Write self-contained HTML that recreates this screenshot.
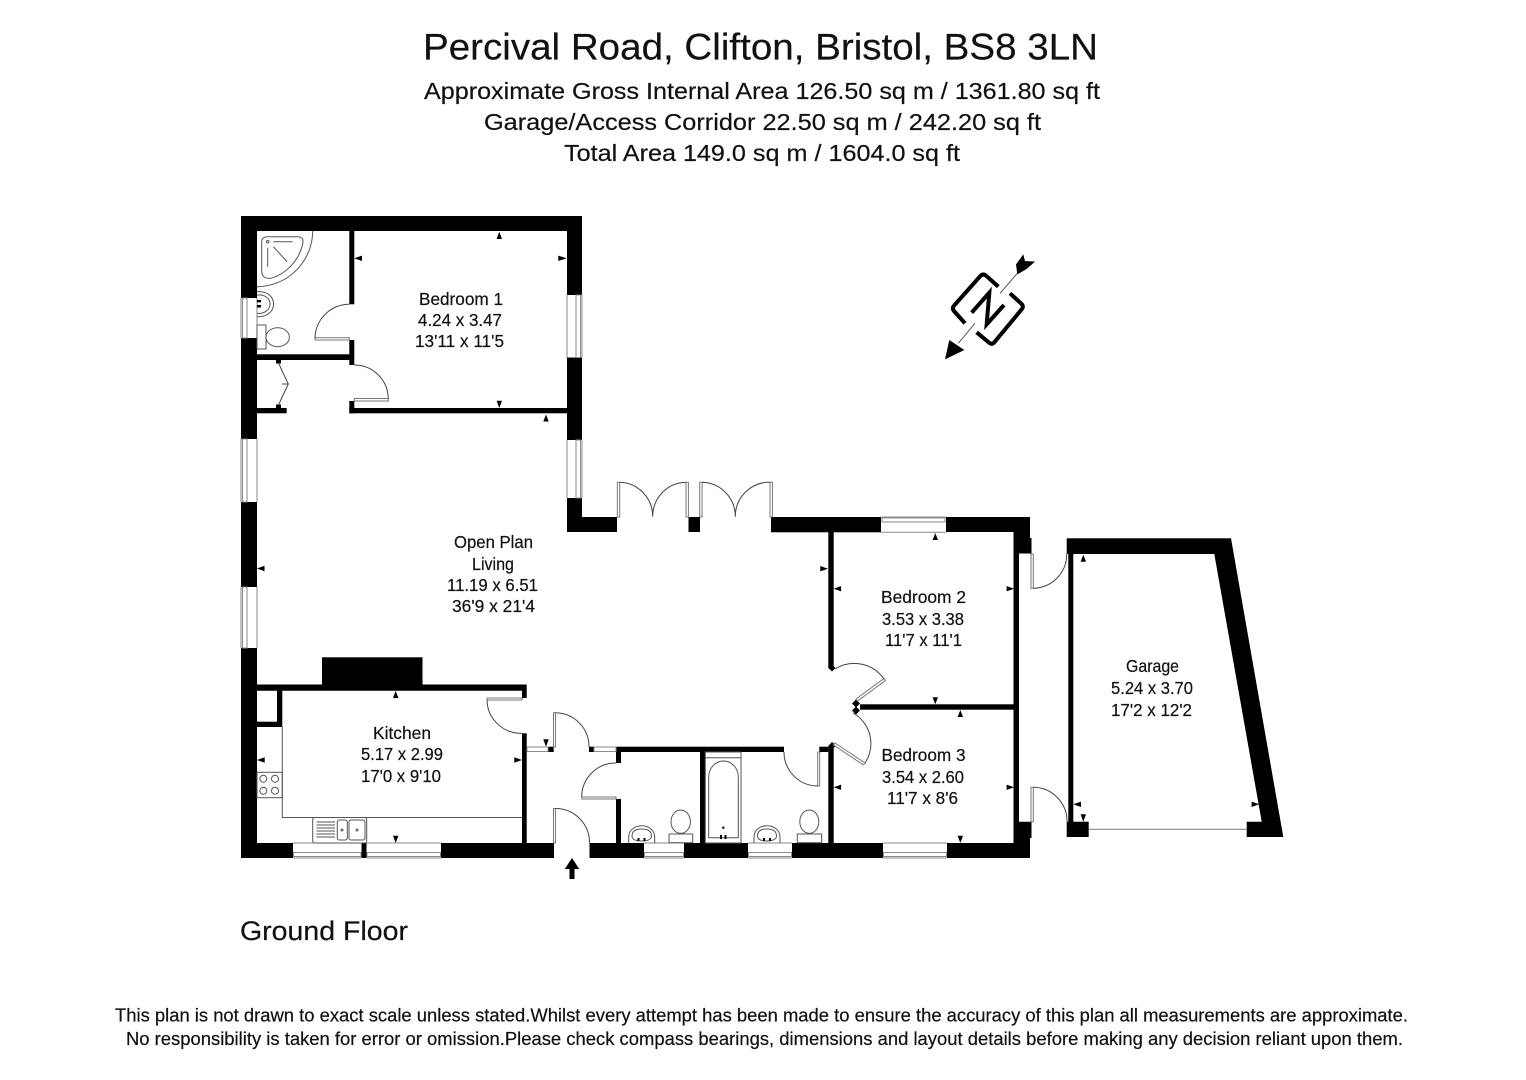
<!DOCTYPE html>
<html><head><meta charset="utf-8"><title>Floor plan</title>
<style>
html,body{margin:0;padding:0;background:#fff}
svg{display:block}
text{font-family:"Liberation Sans",sans-serif;fill:#111;stroke:#111;stroke-width:.2px}
.l{font-size:17.5px}
.w{fill:#fff;stroke:#8a8a8a;stroke-width:1}
.d{fill:#fff;stroke:#777;stroke-width:1}
.a{fill:none;stroke:#444;stroke-width:1}
.f{fill:none;stroke:#555;stroke-width:1}
.k{fill:#000}
</style></head><body>
<svg width="1526" height="1080" viewBox="0 0 1526 1080" xmlns="http://www.w3.org/2000/svg">
<rect width="1526" height="1080" fill="#fff"/>

<text x="423" y="59.5" font-size="37" textLength="675" lengthAdjust="spacingAndGlyphs">Percival Road, Clifton, Bristol, BS8 3LN</text>
<text x="424" y="99" font-size="23.5" textLength="676" lengthAdjust="spacingAndGlyphs">Approximate Gross Internal Area 126.50 sq m / 1361.80 sq ft</text>
<text x="484" y="130" font-size="23.5" textLength="557" lengthAdjust="spacingAndGlyphs">Garage/Access Corridor 22.50 sq m / 242.20 sq ft</text>
<text x="564" y="161" font-size="23.5" textLength="396" lengthAdjust="spacingAndGlyphs">Total Area 149.0 sq m / 1604.0 sq ft</text>

<!-- walls -->
<g class="k">
<path d="M241 216H582V295H567V231H257V298H241Z"/>
<rect x="241" y="338" width="16" height="101"/>
<rect x="241" y="502" width="16" height="85"/>
<path d="M241 648H257V843H293V858H241Z"/>
<rect x="567" y="357.5" width="15" height="82.5"/>
<path d="M567 498H582V517H617V532H567Z"/>
<rect x="688.5" y="517" width="11.5" height="15"/>
<rect x="771" y="517" width="110" height="15.3"/>
<path d="M946 517H1030V538H1031.5V553.5H1019V821.7H1031.5V838H1030V858H947V843H1013.5V532H946Z"/>
<rect x="361.5" y="843" width="5" height="15"/>
<rect x="441" y="843" width="113" height="15"/>
<rect x="589.5" y="843" width="54.5" height="15"/>
<rect x="684" y="843" width="64" height="15"/>
<rect x="792" y="843" width="91" height="15"/>
<!-- bedroom 1 / en-suite -->
<rect x="349.3" y="231" width="5" height="73.3"/>
<rect x="349.3" y="340" width="5" height="25"/>
<rect x="349.3" y="401" width="5" height="12.3"/>
<rect x="349.3" y="408" width="217.7" height="5.3"/>
<rect x="257" y="354.3" width="93" height="5.7"/>
<rect x="257" y="408" width="29.7" height="5.3"/>
<rect x="276" y="360" width="5" height="3.5"/>
<rect x="276" y="404.5" width="5" height="3.5"/>
<!-- kitchen -->
<rect x="322" y="657.3" width="100.5" height="28"/>
<path d="M257 684.5H526.7V698H522V690.7H257Z"/>
<rect x="277" y="690" width="5.3" height="37"/>
<rect x="257" y="721.7" width="25" height="5.3"/>
<rect x="522" y="733.3" width="4.7" height="110"/>
<!-- hall -->
<rect x="548" y="746.7" width="5.7" height="5.3"/>
<rect x="589" y="746.7" width="5" height="5.3"/>
<rect x="616" y="746.7" width="168" height="5.3"/>
<rect x="616" y="752" width="5" height="11"/>
<rect x="616" y="799" width="5" height="44"/>
<rect x="700" y="752" width="5.3" height="91"/>
<rect x="819.3" y="746.7" width="9" height="5.3"/>
<path d="M828.3 746L832 742L836 745.5L833.7 748V843H828.3Z"/>
<!-- bed 2/3 -->
<path d="M828.3 532H833.7V666L835.5 668L832 671.5L828.3 668Z"/>
<rect x="860" y="704.3" width="154" height="5.4"/>
<polygon points="856,699.5 860,703.5 856,707.5 852,703.5"/>
<polygon points="856,706.5 860,710.5 856,714.5 852,710.5"/>
<!-- garage -->
<rect x="1066.7" y="538.3" width="164.3" height="15.7"/>
<rect x="1068.3" y="554" width="5" height="268"/>
<rect x="1066.7" y="821.7" width="22" height="15.3"/>
<polygon points="1231,538.3 1283.3,837 1246.7,837 1246.7,821.7 1261.7,821.7 1214.3,554"/>
</g>

<!-- windows -->
<g class="w">
<path d="M257 298V338M241 298V338"/><rect x="242.5" y="298" width="4.5" height="40"/>
<path d="M257 439V502M241 439V502"/><rect x="242.5" y="439" width="4.5" height="63"/>
<path d="M257 587V648M241 587V648"/><rect x="242.5" y="587" width="4.5" height="61"/>
<path d="M567 295V357.5M582 295V357.5"/><rect x="576" y="295" width="4.5" height="62.5"/>
<path d="M567 440V498M582 440V498"/><rect x="576" y="440" width="4.5" height="58"/>
<path d="M881 532.3H946M881 517H946"/><rect x="882" y="518" width="63" height="4"/>
<path d="M293 843H361.5M293 858H361.5"/><rect x="293.5" y="852.5" width="67.5" height="4"/>
<path d="M366.5 843H441M366.5 858H441"/><rect x="367" y="852.5" width="73.5" height="4"/>
<path d="M644 843H684M644 858H684"/><rect x="644.5" y="852.5" width="39" height="4"/>
<path d="M748 843H792M748 858H792"/><rect x="748.5" y="852.5" width="43" height="4"/>
<path d="M883 843H947M883 858H947"/><rect x="883.5" y="852.5" width="63" height="4"/>
<rect x="527" y="747" width="21" height="4.5"/>
<rect x="594" y="747" width="22" height="4.5"/>
</g>

<!-- doors -->
<g>
<rect class="d" x="315" y="337.7" width="34.3" height="2.3"/><path class="a" d="M315 338A34.5 34.5 0 0 1 349.3 304.3"/>
<rect class="d" x="354.3" y="398.5" width="34" height="2.5"/><path class="a" d="M354.3 365A34 34 0 0 1 388.3 398.5"/>
<rect class="d" x="617.3" y="482.3" width="2.4" height="34.7"/><path class="a" d="M619.7 482.3A34 34 0 0 1 652.7 516.7A34 34 0 0 1 686 482.3"/>
<rect class="d" x="686" y="482.3" width="2.4" height="34.7"/>
<rect class="d" x="699.7" y="482.3" width="2.4" height="34.7"/><path class="a" d="M702 482.3A34 34 0 0 1 735.3 516.7A34 34 0 0 1 770 482.3"/>
<rect class="d" x="770" y="482.3" width="2.4" height="34.7"/>
<rect class="d" x="487" y="698" width="35" height="2"/><path class="a" d="M487 700A34 34 0 0 0 522 733.3"/>
<rect class="d" x="553.5" y="712.7" width="2" height="34.3"/><path class="a" d="M555.5 712.7A34 34 0 0 1 589 747"/>
<rect class="d" x="553.5" y="808.5" width="2" height="34.5"/><path class="a" d="M555.5 808.5A34 34 0 0 1 589.5 843"/>
<rect class="d" x="581.7" y="797" width="34.3" height="2"/><path class="a" d="M581.7 797A34 34 0 0 1 616 763"/>
<rect class="d" x="817.7" y="752" width="2" height="34"/><path class="a" d="M784 752A34 34 0 0 0 817.7 786"/>
<polygon class="d" points="856,699 884,678.5 885.5,680.5 857.5,701"/><path class="a" d="M884 679A36 36 0 0 0 835 669"/>
<polygon class="d" points="835,743 865,763 863.5,765 833.5,745"/><path class="a" d="M853 713A35 35 0 0 1 865 763"/>
<rect class="d" x="1031" y="554" width="2.3" height="34.3"/><path class="a" d="M1033.3 588.3A34 34 0 0 0 1066.7 554"/>
<rect class="d" x="1031" y="787.3" width="2.3" height="34.4"/><path class="a" d="M1033.3 787.3A34 34 0 0 1 1067 821.7"/>
<path class="a" d="M278.5 363L288.3 384L278.5 405M282 384H288.3"/>
<path d="M1088.7 829.3H1246.7" stroke="#888" stroke-width="1.2" fill="none"/>
</g>

<!-- fixtures -->
<g class="f">
<path d="M257 286.7A56 56 0 0 0 312.7 231"/>
<path d="M261.7 242Q261.7 236.7 267.7 236.7H297.7Q303.5 237 303 242C300 260 286 274 271 278.3Q262 279 261.7 271.7Z"/>
<path d="M273.3 241.7H292.7M267.7 247.7V266.7M273.3 246.7L287 261.7"/>
<circle cx="267.7" cy="241.7" r="1.2"/>
<path d="M257 291.7C268 291 273.5 297 273.5 304C273.5 311 268 317 257 316.7"/>
<path d="M257 295C264 294 270 298 270 304C270 310 264 314 257 313.5"/>
<rect x="257" y="325" width="9" height="24"/>
<ellipse cx="277.7" cy="337.2" rx="11.7" ry="9.5"/>
<path d="M282.3 727V817.5H522"/>
<rect x="257" y="772.3" width="25.3" height="25.4" fill="none"/>
<circle cx="263.3" cy="778.7" r="3.5"/><circle cx="275" cy="778.7" r="3.5"/>
<circle cx="263.3" cy="790.7" r="3.5"/><circle cx="275" cy="790.7" r="3.5"/>
<rect x="312.7" y="817.5" width="54" height="25.5" rx="2"/>
<rect x="337.3" y="820" width="10" height="20" rx="2"/>
<rect x="349" y="820" width="16" height="20" rx="2"/>
<path d="M316.5 822H335M316.5 825H335M316.5 828H335M316.5 831H335M316.5 834H335M316.5 837H335"/>
<circle cx="342" cy="830" r="1"/><circle cx="357" cy="830" r="1"/>
<rect x="705.3" y="752" width="35.7" height="91"/>
<path d="M705.3 757.7H741"/>
<path d="M708.7 837.7V777A14.8 16 0 0 1 738.3 777V837.7Z"/>
<path d="M628.7 843V837C628.7 830 635 825.7 641.7 825.7C648.5 825.7 654.7 830 654.7 837V843"/>
<path d="M632 836C632 831 636 829 641.7 829C647.5 829 651.5 831 651.5 836C651.5 840 646 841 641.7 841C637 841 632 840 632 836Z"/>
<ellipse cx="680.7" cy="821.7" rx="9.7" ry="11.7"/>
<rect x="669" y="834" width="23.7" height="8.7"/>
<path d="M754 843V837C754 830 760 825.7 767 825.7C774 825.7 780 830 780 837V843"/>
<path d="M757.5 836C757.5 831 761 829 767 829C773 829 776.5 831 776.5 836C776.5 840 771 841 767 841C762 841 757.5 840 757.5 836Z"/>
<ellipse cx="809.3" cy="821.7" rx="9.5" ry="11.7"/>
<rect x="797.3" y="834" width="24.4" height="8.7"/>
</g>
<g class="k">
<rect x="720" y="835" width="2" height="4"/><rect x="724.5" y="835" width="2" height="4"/><circle cx="723.3" cy="827.7" r="1.2"/>
<rect x="637.5" y="838" width="2" height="3"/><rect x="643.5" y="838" width="2" height="3"/>
<rect x="763" y="838" width="2" height="3"/><rect x="769" y="838" width="2" height="3"/>
<rect x="257" y="300" width="4" height="2.3"/><rect x="257" y="305" width="4" height="2.5"/>
</g>

<!-- dimension ticks -->
<g class="k">
<path d="M499.3 231.7l2.7 7.3h-5.4z M546 414.5l2.7 7h-5.4z M395.7 691l2.7 7h-5.4z M935.3 533l2.7 7h-5.4z M960.3 710l2.7 7h-5.4z M1083.3 554.7l2.7 7h-5.4z"/>
<path d="M499.3 408l2.7 -7.3h-5.4z M395.7 843l2.7 -7.3h-5.4z M546 746.7l2.7 -7.5h-5.4z M935.3 704.3l2.7 -7h-5.4z M960.3 843l2.7 -7.3h-5.4z M1083.3 821.7l2.7 -7.5h-5.4z"/>
<path d="M354.3 258.3l7.7 -2.7v5.4z M257 568.5l7.5 -2.7v5.4z M257 760l7.7 -2.7v5.4z M833.7 588.7l7.4 -2.7v5.4z M833.7 787.3l7.4 -2.7v5.4z M1073.3 804.3l7.7 -2.7v5.4z"/>
<path d="M566.7 258.3l-8.4 -2.7v5.4z M828 568.7l-7.7 -2.7v5.4z M522 760l-7.7 -2.7v5.4z M1014 588.7l-7.4 -2.7v5.4z M1014 787.3l-7.4 -2.7v5.4z M1259.3 804.3l-7.7 -2.7v5.4z"/>
</g>

<!-- entry arrow -->
<polygon class="k" points="572,858 579.3,869 574.5,869 574.5,879 569.5,879 569.5,869 564.7,869"/>

<!-- compass -->
<g transform="translate(930 245) scale(.3333)">
<path d="M105 235L72 198Q65 190 72 182L152 92Q160 85 168 92L205 125M240 145L275 177Q282 185 275 193L193 292Q185 300 177 293L140 262" fill="none" stroke="#000" stroke-width="12"/>
<path d="M125 203L178 143L170 238L222 180" fill="none" stroke="#000" stroke-width="12" stroke-linejoin="miter"/>
<path d="M210 145L262 85M135 235L85 295" stroke="#555" stroke-width="3" fill="none"/>
<polygon class="k" points="262,88 258,58 280,28 285,48 315,50 290,72"/>
<polygon class="k" points="45,343 58,285 103,315"/>
</g>

<!-- labels -->
<g class="l">
<text x="419" y="305" textLength="84" lengthAdjust="spacingAndGlyphs">Bedroom 1</text>
<text x="418" y="326" textLength="84" lengthAdjust="spacingAndGlyphs">4.24 x 3.47</text>
<text x="415" y="347" textLength="89" lengthAdjust="spacingAndGlyphs">13'11 x 11'5</text>
<text x="454" y="548" textLength="79" lengthAdjust="spacingAndGlyphs">Open Plan</text>
<text x="472" y="570" textLength="42" lengthAdjust="spacingAndGlyphs">Living</text>
<text x="447" y="591" textLength="91" lengthAdjust="spacingAndGlyphs">11.19 x 6.51</text>
<text x="452" y="612" textLength="83" lengthAdjust="spacingAndGlyphs">36'9 x 21'4</text>
<text x="373" y="739" textLength="58" lengthAdjust="spacingAndGlyphs">Kitchen</text>
<text x="361" y="760" textLength="82" lengthAdjust="spacingAndGlyphs">5.17 x 2.99</text>
<text x="361" y="782" textLength="80" lengthAdjust="spacingAndGlyphs">17'0 x 9'10</text>
<text x="881" y="603" textLength="85" lengthAdjust="spacingAndGlyphs">Bedroom 2</text>
<text x="882" y="625" textLength="82" lengthAdjust="spacingAndGlyphs">3.53 x 3.38</text>
<text x="885" y="646" textLength="77" lengthAdjust="spacingAndGlyphs">11'7 x 11'1</text>
<text x="881.5" y="761" textLength="84" lengthAdjust="spacingAndGlyphs">Bedroom 3</text>
<text x="882" y="783" textLength="82" lengthAdjust="spacingAndGlyphs">3.54 x 2.60</text>
<text x="887" y="804" textLength="71" lengthAdjust="spacingAndGlyphs">11'7 x 8'6</text>
<text x="1126" y="672" textLength="53" lengthAdjust="spacingAndGlyphs">Garage</text>
<text x="1111" y="694" textLength="82" lengthAdjust="spacingAndGlyphs">5.24 x 3.70</text>
<text x="1111" y="716" textLength="81" lengthAdjust="spacingAndGlyphs">17'2 x 12'2</text>
</g>

<text x="240" y="940" font-size="26.5" textLength="168" lengthAdjust="spacingAndGlyphs">Ground Floor</text>
<text x="115" y="1021.5" font-size="18" textLength="1293" lengthAdjust="spacingAndGlyphs">This plan is not drawn to exact scale unless stated.Whilst every attempt has been made to ensure the accuracy of this plan all measurements are approximate.</text>
<text x="126" y="1045" font-size="18" textLength="1277" lengthAdjust="spacingAndGlyphs">No responsibility is taken for error or omission.Please check compass bearings, dimensions and layout details before making any decision reliant upon them.</text>
</svg>
</body></html>
